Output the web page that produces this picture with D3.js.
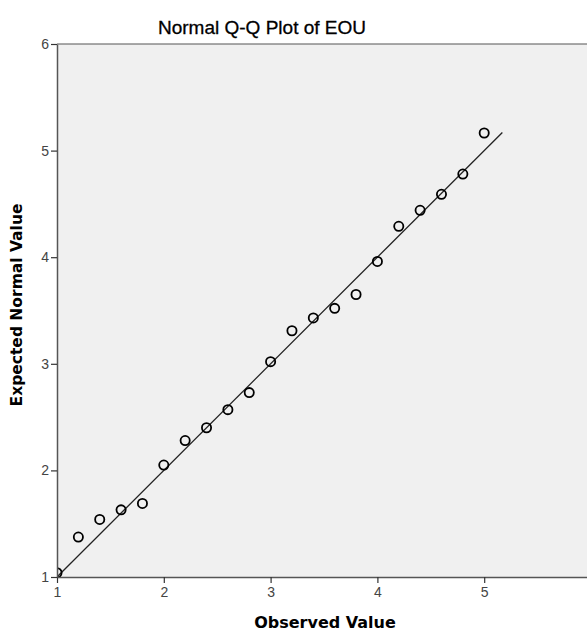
<!DOCTYPE html>
<html>
<head>
<meta charset="utf-8">
<script src="https://cdn.jsdelivr.net/npm/d3@7"></script>
<style>
  body { margin: 0; background: #fff; }
  svg { display: block; }
</style>
</head>
<body>
<div id="chart"></div>
<script>
// data
var observed = [1.0, 1.2, 1.4, 1.6, 1.8, 2.0, 2.2, 2.4, 2.6, 2.8, 3.0, 3.2, 3.4, 3.6, 3.8, 4.0, 4.2, 4.4, 4.6, 4.8, 5.0];
var expected = [1.04, 1.375, 1.54, 1.63, 1.69, 2.05, 2.28, 2.40, 2.57, 2.73, 3.02, 3.31, 3.43, 3.52, 3.65, 3.96, 4.29, 4.44, 4.59, 4.78, 5.165];
var lineEnds = [1, 5.17];
var xTicks = [1, 2, 3, 4, 5];
var yTicks = [1, 2, 3, 4, 5, 6];

var svgWidth = 587;
var svgHeight = 632;

var margin = { top: 44, right: -4, bottom: 55, left: 57 };
var width = svgWidth - margin.left - margin.right;
var height = svgHeight - margin.top - margin.bottom;

var svg = d3.select("#chart")
  .append("svg")
  .attr("width", svgWidth)
  .attr("height", svgHeight);

var chartGroup = svg.append("g")
  .attr("transform", `translate(${margin.left}, ${margin.top})`);

var x = d3.scaleLinear().domain([1, 6]).range([0, width]);
var y = d3.scaleLinear().domain([1, 6]).range([height, 0]);

// plot background
chartGroup.append("rect")
  .attr("width", width)
  .attr("height", height)
  .attr("fill", "#f0f0f0");

chartGroup.append("clipPath")
  .attr("id", "plotClip")
  .append("rect")
  .attr("width", width)
  .attr("height", height);

// top border
chartGroup.append("line")
  .attr("x1", 0).attr("x2", width)
  .attr("y1", 0).attr("y2", 0)
  .attr("stroke", "#555")
  .attr("stroke-width", 1.2);

var plot = chartGroup.append("g").attr("clip-path", "url(#plotClip)");

// reference line
plot.append("line")
  .attr("x1", x(lineEnds[0])).attr("y1", y(lineEnds[0]))
  .attr("x2", x(lineEnds[1])).attr("y2", y(lineEnds[1]))
  .attr("stroke", "#222")
  .attr("stroke-width", 1.3);

// points
plot.selectAll("circle")
  .data(observed)
  .enter()
  .append("circle")
  .attr("cx", d => x(d))
  .attr("cy", (d, i) => y(expected[i]))
  .attr("r", 4.6)
  .attr("fill", "none")
  .attr("stroke", "#000")
  .attr("stroke-width", 1.8);

// axes
var bottomAxis = d3.axisBottom(x).tickValues(xTicks).tickSize(6).tickSizeOuter(0).tickFormat(d3.format("d"));
var leftAxis = d3.axisLeft(y).tickValues(yTicks).tickSize(6).tickSizeOuter(0).tickFormat(d3.format("d"));

var xg = chartGroup.append("g")
  .attr("transform", `translate(0, ${height})`)
  .call(bottomAxis);

var yg = chartGroup.append("g")
  .call(leftAxis);

// SPSS-ish axis styling
[xg, yg].forEach(function(g) {
  g.select(".domain").attr("stroke", "#555").attr("stroke-width", 1.5);
  g.selectAll(".tick line").attr("stroke", "#333").attr("stroke-width", 1.2);
  g.selectAll(".tick text")
    .attr("fill", "#444")
    .style("font-family", "'Liberation Sans', Arial, sans-serif")
    .style("font-size", "14px");
});
yg.selectAll(".tick text").attr("x", -8);
xg.selectAll(".tick text").attr("y", 10);

// title
svg.append("text")
  .attr("x", 262)
  .attr("y", 34)
  .attr("text-anchor", "middle")
  .style("font-family", "'Liberation Sans', Arial, sans-serif")
  .style("font-size", "19px")
  .attr("fill", "#000")
  .attr("stroke", "#000")
  .attr("stroke-width", 0.3)
  .text("Normal Q-Q Plot of EOU");

// axis labels
svg.append("text")
  .attr("transform", "rotate(-90)")
  .attr("x", -305)
  .attr("y", 22)
  .attr("text-anchor", "middle")
  .style("font-family", "'DejaVu Sans', Verdana, sans-serif")
  .style("font-size", "15.5px")
  .style("font-weight", "bold")
  .text("Expected Normal Value");

svg.append("text")
  .attr("x", 325)
  .attr("y", 628)
  .attr("text-anchor", "middle")
  .style("font-family", "'DejaVu Sans', Verdana, sans-serif")
  .style("font-size", "16px")
  .style("font-weight", "bold")
  .text("Observed Value");
</script>
</body>
</html>
